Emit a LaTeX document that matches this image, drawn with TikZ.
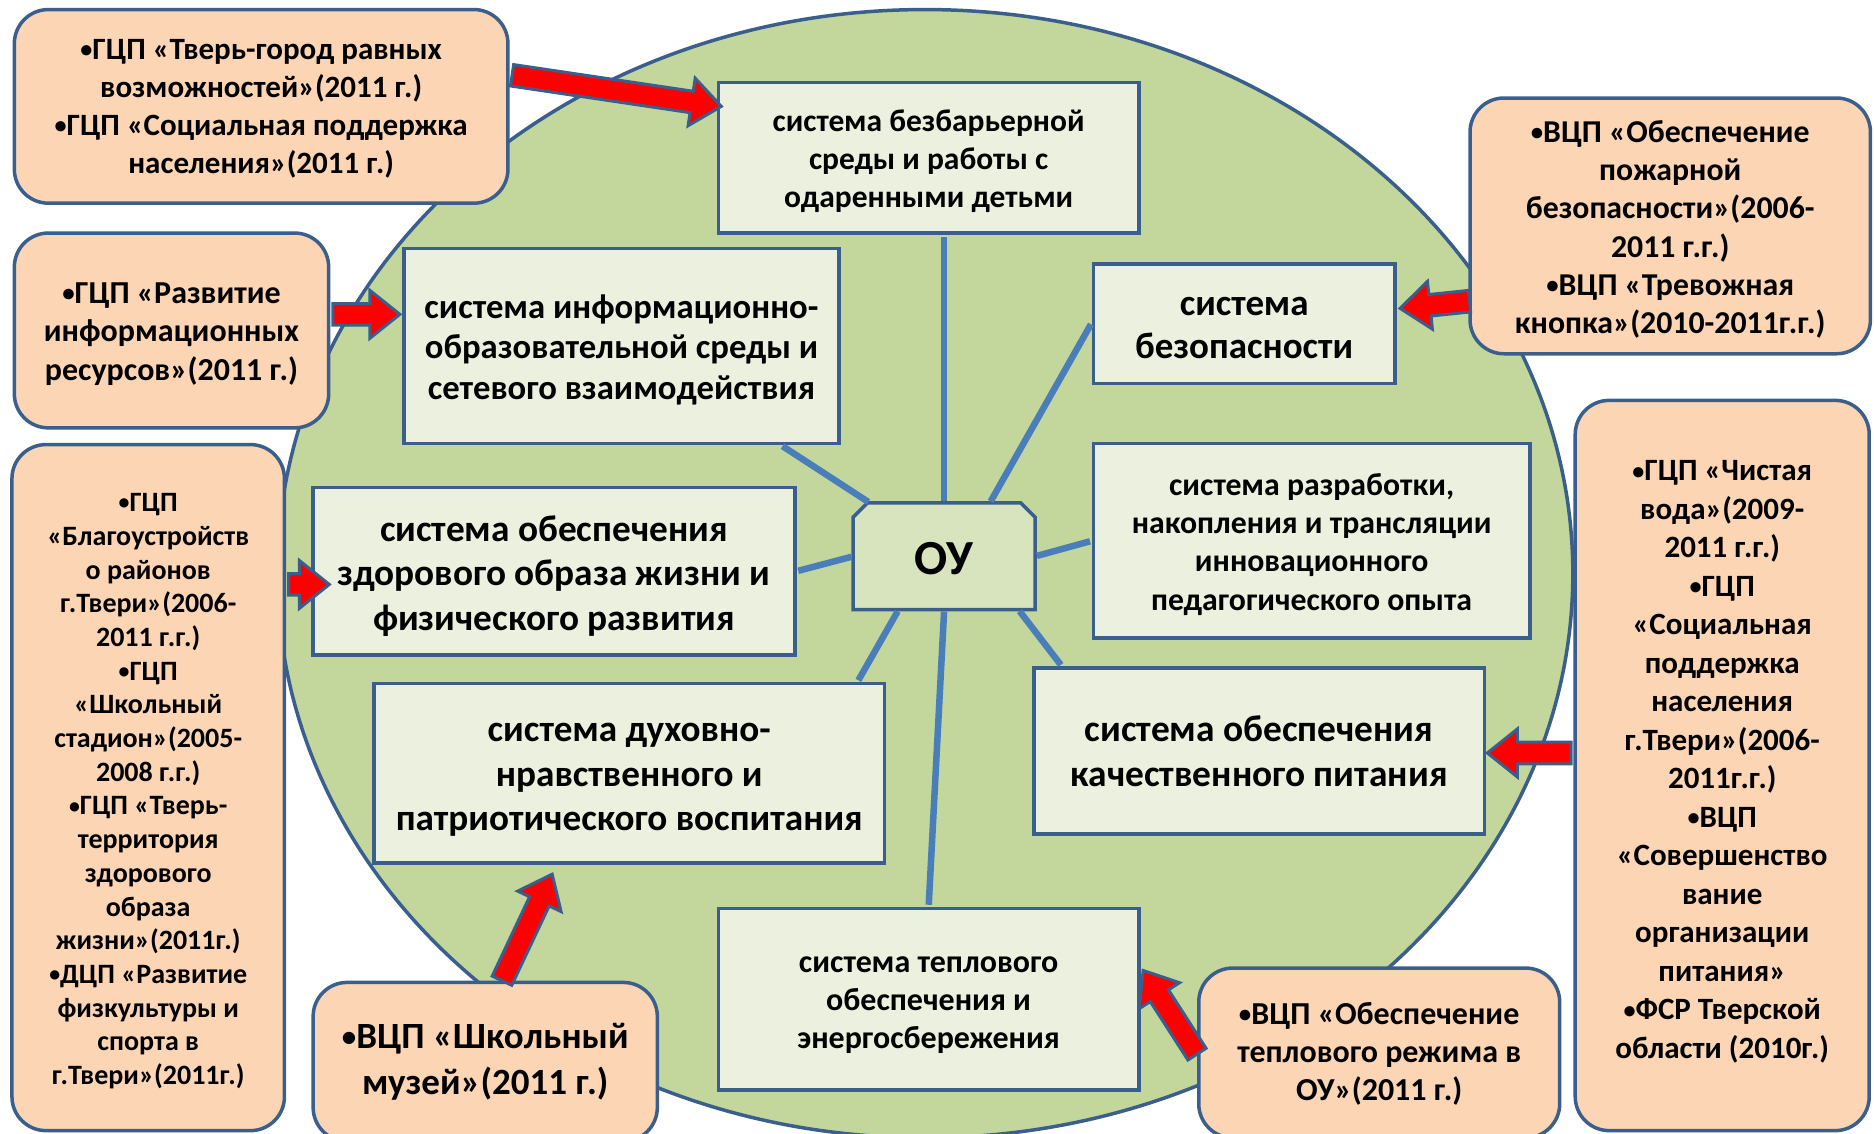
\documentclass[tikz,border=0pt]{standalone}
\usepackage{fontspec}
\setmainfont{Carlito}
\usetikzlibrary{calc}
\definecolor{ellfill}{HTML}{C3D69B}
\definecolor{bord}{HTML}{3A5F8D}
\definecolor{innerfill}{HTML}{EBF1DE}
\definecolor{peach}{HTML}{FCD5B4}
\definecolor{connc}{HTML}{4A7EBB}
\definecolor{oufill}{HTML}{D7E4BD}
\newcommand{\myfs}[2]{\fontsize{#1}{#2}\selectfont\bfseries}
\newcommand{\bul}{\raisebox{0.06em}{\scalebox{0.78}{•}}}
\tikzset{
  txt/.style={inner sep=0pt, align=center, text=black},
  ibox/.style={draw=bord, line width=3.5pt, fill=innerfill, inner sep=0pt},
  obox/.style={draw=bord, line width=3.5pt, fill=peach, rounded corners=34pt, inner sep=0pt},
  conn/.style={draw=connc, line width=6.5pt, shorten >=1.8pt, shorten <=1.8pt},
  redarr/.style={draw=bord, fill=red, line width=3pt, line join=miter},
}
\newcommand{\blockarrow}[2]{%
  \coordinate (ba-b) at ($(#2)!30pt!(#1)$);
  \filldraw[redarr] ($(#1)!10.8pt!90:(#2)$) -- ($(ba-b)!10.8pt!-90:(#1)$) -- ($(ba-b)!24pt!-90:(#1)$)
    -- (#2) -- ($(ba-b)!24pt!90:(#1)$) -- ($(ba-b)!10.8pt!90:(#1)$) -- ($(#1)!10.8pt!-90:(#2)$) -- cycle;
}
\begin{document}
\begin{tikzpicture}[x=1.1952pt, y=-1.1952pt]
\useasboundingbox (0,0) rectangle (1568,948);
\clip (0,0) rectangle (1568,948);

% background ellipse
\draw[draw=bord, line width=3.5pt, fill=ellfill] (774,480) ellipse [x radius=542, y radius=472];

% inner system boxes
\node[ibox, minimum width=352*1.1952pt, minimum height=126*1.1952pt] (A) at (777,132) {};
\node[txt, font=\myfs{31.5}{38.2}] (At) at ($(A)+(0,3)$)
  {система безбарьерной\\среды и работы с\\одаренными детьми};
\node[ibox, minimum width=364*1.1952pt, minimum height=163*1.1952pt] (B) at (520,289.5) {};
\node[txt, font=\myfs{34.7}{40.6}] (Bt) at ($(B)+(0,3)$)
  {система информационно-\\образовательной среды и\\сетевого взаимодействия};
\node[ibox, minimum width=252*1.1952pt, minimum height=100*1.1952pt] (C) at (1041,271) {};
\node[txt, font=\myfs{37}{43}] (Ct) at ($(C)+(0,3.5)$)
  {система\\безопасности};
\node[ibox, minimum width=365*1.1952pt, minimum height=163*1.1952pt] (D) at (1097.5,452.5) {};
\node[txt, font=\myfs{31.8}{38.2}] (Dt) at ($(D)+(0,3)$)
  {система разработки,\\накопления и трансляции\\инновационного\\педагогического опыта};
\node[ibox, minimum width=403*1.1952pt, minimum height=140*1.1952pt] (E) at (463.5,478) {};
\node[txt, font=\myfs{37.3}{44.8}] (Et) at ($(E)+(0,4)$)
  {система обеспечения\\здорового образа жизни и\\физического развития};
\node[ibox, minimum width=427*1.1952pt, minimum height=150*1.1952pt] (F) at (526.5,647) {};
\node[txt, font=\myfs{37.2}{44.8}] (Ft) at ($(F)+(0,5.5)$)
  {система духовно-\\нравственного и\\патриотического воспитания};
\node[ibox, minimum width=377*1.1952pt, minimum height=139*1.1952pt] (G) at (1053.5,628.5) {};
\node[txt, font=\myfs{37.4}{44.2}] (Gt) at ($(G)+(0,0)$)
  {система обеспечения\\качественного питания};
\node[ibox, minimum width=352*1.1952pt, minimum height=152*1.1952pt] (H) at (777,836) {};
\node[txt, font=\myfs{32}{38.2}] (Ht) at ($(H)+(0,5)$)
  {система теплового\\обеспечения и\\энергосбережения};

% central node
\node[inner sep=0pt, minimum width=152*1.1952pt, minimum height=89*1.1952pt] (OU) at (790,465.5) {};
\draw[draw=bord, line width=3.5pt, fill=oufill]
  ($(OU.north west)+(0,12)$) -- ($(OU.north west)+(12,0)$) -- ($(OU.north east)+(-12,0)$)
  -- ($(OU.north east)+(0,12)$) -- (OU.south east) -- (OU.south west) -- cycle;
\node[txt, font=\myfs{49}{52}] (OUt) at ($(OU.center)+(0,2)$) {ОУ};

% programme boxes
\node[obox, minimum width=413*1.1952pt, minimum height=162*1.1952pt] (O1) at (218.5,89) {};
\node[txt, font=\myfs{31}{38.2}] (O1t) at ($(O1)+(0,2)$)
  {\bul ГЦП «Тверь-город равных\\возможностей»(2011 г.)\\\bul ГЦП «Социальная поддержка\\населения»(2011 г.)};
\node[obox, minimum width=263*1.1952pt, minimum height=163*1.1952pt] (O2) at (143.5,276.5) {};
\node[txt, font=\myfs{32}{38.2}] (O2t) at ($(O2)+(0,3)$)
  {\bul ГЦП «Развитие\\информационных\\ресурсов»(2011 г.)};
\node[obox, minimum width=228*1.1952pt, minimum height=574*1.1952pt] (O3) at (124,659) {};
\node[txt, font=\myfs{28}{33.7}] (O3t) at ($(O3)+(0,3)$)
  {\bul ГЦП\\«Благоустройств\\о районов\\г.Твери»(2006-\\2011 г.г.)\\\bul ГЦП\\«Школьный\\стадион»(2005-\\2008 г.г.)\\\bul ГЦП «Тверь-\\территория\\здорового\\образа\\жизни»(2011г.)\\\bul ДЦП «Развитие\\физкультуры и\\спорта в\\г.Твери»(2011г.)};
\node[obox, minimum width=246*1.1952pt, minimum height=611*1.1952pt] (O4) at (1441,640.5) {};
\node[txt, font=\myfs{31}{38.5}] (O4t) at ($(O4)+(0,-3)$)
  {\bul ГЦП «Чистая\\вода»(2009-\\2011 г.г.)\\\bul ГЦП\\«Социальная\\поддержка\\населения\\г.Твери»(2006-\\2011г.г.)\\\bul ВЦП\\«Совершенство\\вание\\организации\\питания»\\\bul ФСР Тверской\\области (2010г.)};
\node[obox, minimum width=335*1.1952pt, minimum height=214*1.1952pt] (O5) at (1397.5,189) {};
\node[txt, font=\myfs{31.8}{38.2}] (O5t) at ($(O5)+(0,3)$)
  {\bul ВЦП «Обеспечение\\пожарной\\безопасности»(2006-\\2011 г.г.)\\\bul ВЦП «Тревожная\\кнопка»(2010-2011г.г.)};
\node[obox, minimum width=288*1.1952pt, minimum height=133*1.1952pt] (O6) at (406,888.5) {};
\node[txt, font=\myfs{37}{45.4}] (O6t) at ($(O6)+(0,0)$)
  {\bul ВЦП «Школьный\\музей»(2011 г.)};
\node[obox, minimum width=302*1.1952pt, minimum height=142*1.1952pt] (O7) at (1154,881) {};
\node[txt, font=\myfs{32}{38.2}] (O7t) at ($(O7)+(0,1)$)
  {\bul ВЦП «Обеспечение\\теплового режима в\\ОУ»(2011 г.)};

% connectors from OU
\draw[conn] (OU.north) -- (OU.north |- A.south);
\draw[conn] ($(OU.north east)+(-38,0)$) -- ($(C.west)+(0,-1)$);
\draw[conn] ($(OU.north west)+(14,0)$) -- ($(B.south east)+(-50,0)$);
\draw[conn] (OU.west) -- (E.east);
\draw[conn] (OU.east) -- (D.west);
\draw[conn] ($(OU.south west)+(38,0)$) -- ($(F.north east)+(-24,0)$);
\draw[conn] (OU.south) -- (H.north);
\draw[conn] ($(OU.south east)+(-14,0)$) -- ($(G.north west)+(25,0)$);

% red block arrows
\coordinate (r1s) at ($(O1.east)+(2,-26)$);   \coordinate (r1e) at ($(A.west)+(4,-43)$);
\coordinate (r2s) at ($(O2.east)+(2,-13.5)$); \coordinate (r2e) at ($(B.west)+(-2,-26.5)$);
\coordinate (r3s) at ($(O3.east)+(2,-170)$);  \coordinate (r3e) at ($(E.west)+(15,11)$);
\coordinate (r4s) at ($(O5.west)+(1,63)$);    \coordinate (r4e) at ($(C.east)+(3,-13)$);
\coordinate (r5s) at ($(O4.west)+(-2,-10.5)$);\coordinate (r5e) at ($(G.east)+(1,1.5)$);
\coordinate (r6s) at ($(O7.west)+(0,1)$);     \coordinate (r6e) at ($(H.east)+(2,-24)$);
\coordinate (r7s) at ($(O6.north)+(14,0)$);   \coordinate (r7e) at ($(F.south)+(-64.5,8)$);
\blockarrow{r1s}{r1e}
\blockarrow{r2s}{r2e}
\blockarrow{r3s}{r3e}
\blockarrow{r4s}{r4e}
\blockarrow{r5s}{r5e}
\blockarrow{r6s}{r6e}
\blockarrow{r7s}{r7e}
\end{tikzpicture}
\end{document}
